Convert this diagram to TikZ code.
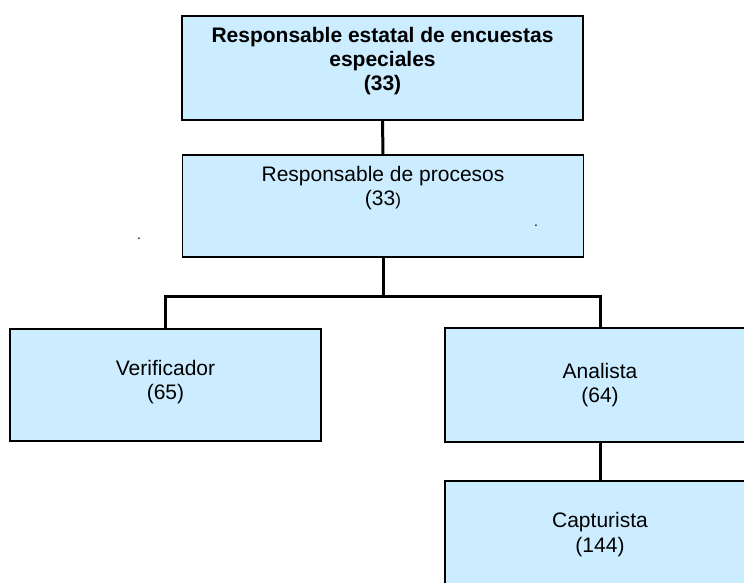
\documentclass[tikz,border=0pt]{standalone}
\usepackage{fontspec}
\setmainfont{Liberation Sans}
\definecolor{boxfill}{RGB}{204,236,255}
\tikzset{
  orgbox/.style={draw=black, fill=boxfill, line width=1.4pt, rectangle, inner sep=0pt},
  lbl/.style={anchor=base, inner sep=0pt, font=\fontsize{21}{24}\selectfont, text=black},
  blbl/.style={lbl, font=\fontsize{21}{24}\selectfont\bfseries},
  dotlbl/.style={anchor=base, inner sep=0pt, font=\fontsize{14}{16}\selectfont},
  link/.style={draw=black, line width=3pt, line cap=rect, line join=miter}
}
\begin{document}
\begin{tikzpicture}[x=1pt,y=-1pt]
\useasboundingbox (0,0) rectangle (744,582);
\clip (0,0) rectangle (744,582);
\fill[white] (0,0) rectangle (744,582);
% boxes
\node[orgbox, minimum width=401pt, minimum height=104pt] (top) at (382.5,68) {};
\node[orgbox, minimum width=401pt, minimum height=102pt] (proc) at (383,206) {};
\node[orgbox, minimum width=311pt, minimum height=112pt] (verif) at (165.5,385) {};
\node[orgbox, minimum width=310pt, minimum height=114pt] (anal) at (600,385) {};
\node[orgbox, minimum width=310pt, minimum height=110pt] (capt) at (600,536) {};
% connectors
\draw[link] (top.south) -- (proc.north);
\draw[link] (proc.south) -- ++(0,39) coordinate (j);
\draw[link] (verif.north) |- (j) -| (anal.north);
\draw[link] (anal.south) -- (capt.north);
% texts
\node[blbl] (t1) at (382.5,42) {Responsable estatal de encuestas};
\node[blbl] (t2) at (382.5,66) {especiales};
\node[blbl] (t3) at (382.5,90) {(33)};
\node[lbl] (p1) at (383,181) {Responsable de procesos};
\node[lbl] (p2) at (383,205) {(33{\fontsize{17}{20}\selectfont )}};
\node[dotlbl] (d1) at (536,226) {.};
\node[dotlbl] (d2) at (139,239) {.};
\node[lbl] (v1) at (165.5,375) {Verificador};
\node[lbl] (v2) at (165.5,399) {(65)};
\node[lbl] (a1) at (600,378) {Analista};
\node[lbl] (a2) at (600,402) {(64)};
\node[lbl] (c1) at (600,527) {Capturista};
\node[lbl] (c2) at (600,552) {(144)};
\end{tikzpicture}
\end{document}
